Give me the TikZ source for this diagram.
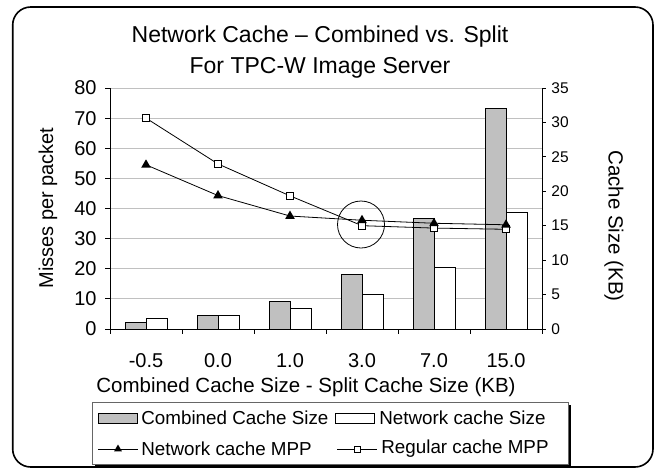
\documentclass[tikz,border=0pt]{standalone}
\usepackage{fontspec}
\setmainfont{Liberation Sans}
\usetikzlibrary{shapes.geometric}
\definecolor{barfill}{HTML}{C0C0C0}
\definecolor{gridline}{HTML}{C0C0C0}
\tikzset{
  tri/.style={regular polygon, regular polygon sides=3, fill=black,
    inner sep=0pt, minimum size=11pt},
  sq/.style={draw, fill=white, inner sep=0pt, minimum size=7pt, line width=0.8pt},
  ticklab/.style={inner sep=0pt, font=\fontsize{20}{24}\selectfont},
  leglab/.style={anchor=west, inner sep=0pt, font=\fontsize{18.8}{22}\selectfont}
}
\begin{document}
\begin{tikzpicture}[x=1pt, y=-1pt, line width=0.8pt]
\useasboundingbox (0,0) rectangle (656,469);

\def\xa{110};
\def\xb{542};
\def\ya{88};
\def\yb{329};
\def\yl{3.0125};
\def\yr{6.886};

% frame
\draw[line width=1.6pt, rounded corners=18pt] (12.7,7) rectangle (653,467);

% title
\node[anchor=base, font=\fontsize{23}{28}\selectfont] (t1) at (320,42.5) {Network Cache – Combined vs. Split};
\node[anchor=base, font=\fontsize{23}{28}\selectfont] (t2) at (320,73) {For TPC-W Image Server};

% grid lines
\foreach \v in {10,20,...,80}
  \draw[gridline, line width=1pt] (\xa,{\yb-\v*\yl}) -- (\xb,{\yb-\v*\yl});

% bars: combined (grey) and network (white), in KB
\foreach \c/\g/\w in {146/1/1.5, 218/2/2, 290/4/3, 362/8/5, 434/16/9, 506/32/17} {
  \draw[fill=barfill] (\c-21,\yb) rectangle (\c,{\yb-\g*\yr});
  \draw[fill=white] (\c,\yb) rectangle (\c+21,{\yb-\w*\yr});
}

% axes
\draw (\xa,\ya) -- (\xa,\yb) -- (\xb,\yb) -- (\xb,\ya);
\foreach \x in {110,182,...,542}
  \draw (\x,\yb) -- (\x,334);
\foreach \v in {0,10,...,80} {
  \draw (105,{\yb-\v*\yl}) -- (\xa,{\yb-\v*\yl});
  \node[ticklab, anchor=east] (l\v) at (97,{\yb-\v*\yl}) {\v};
}
\foreach \v in {0,5,...,35} {
  \draw (\xb,{\yb-\v*\yr}) -- (546,{\yb-\v*\yr});
  \node[ticklab, anchor=west, font=\fontsize{15.5}{18}\selectfont] (r\v) at (551,{\yb-\v*\yr}) {\v};
}
\foreach \c/\t [count=\i] in {146/-0.5, 218/0.0, 290/1.0, 362/3.0, 434/7.0, 506/15.0}
  \node[ticklab, anchor=base] (x\i) at (\c,367) {\t};

% axis titles
\node[anchor=base, font=\fontsize{20.5}{24}\selectfont] (xt) at (306,392) {Combined Cache Size - Split Cache Size (KB)};
\node[rotate=90, font=\fontsize{20}{24}\selectfont] (yt) at (48,208) {Misses per packet};
\node[rotate=-90, font=\fontsize{20.5}{24}\selectfont] (zt) at (614,226) {Cache Size (KB)};

% misses per packet
\coordinate (n1) at (146,{\yb-54.5*\yl});
\coordinate (n2) at (218,{\yb-44.3*\yl});
\coordinate (n3) at (290,{\yb-37.5*\yl});
\coordinate (n4) at (362,{\yb-36.1*\yl});
\coordinate (n5) at (434,{\yb-35.1*\yl});
\coordinate (n6) at (506,{\yb-34.6*\yl});
\coordinate (q1) at (146,{\yb-70*\yl});
\coordinate (q2) at (218,{\yb-54.8*\yl});
\coordinate (q3) at (290,{\yb-44.2*\yl});
\coordinate (q4) at (362,{\yb-34.3*\yl});
\coordinate (q5) at (434,{\yb-33.5*\yl});
\coordinate (q6) at (506,{\yb-33.1*\yl});
\draw (q1) -- (q2) -- (q3) -- (q4) -- (q5) -- (q6);
\draw (n1) -- (n2) -- (n3) -- (n4) -- (n5) -- (n6);
\foreach \i in {1,...,6} {
  \node[sq] (qm\i) at (q\i) {};
  \node[tri] (nm\i) at (n\i) {};
}

% the 3.0 point
\node[draw, circle, minimum size=47pt, inner sep=0pt] (ring) at (361,224.5) {};

% legend
\fill (95,405) rectangle (571,467);
\draw[fill=white, draw=black!60] (92,402) rectangle (568,464);
\draw[fill=barfill] (98,413) rectangle (137,423);
\node[leglab] (g1) at (141,418) {Combined Cache Size};
\draw[fill=white] (335,413) rectangle (374,423);
\node[leglab] (g2) at (379,418) {Network cache Size};
\coordinate (a1) at (98,449);
\coordinate (a2) at (138,449);
\draw (a1) -- (a2);
\node[tri, minimum size=9pt] (am) at (118,449) {};
\node[leglab] (g3) at (141,449) {Network cache MPP};
\coordinate (b1) at (337,449);
\coordinate (b2) at (377,449);
\draw (b1) -- (b2);
\node[sq, minimum size=6pt] (bm) at (357,449) {};
\node[leglab] (g4) at (381,449) {Regular cache MPP};
\end{tikzpicture}
\end{document}
